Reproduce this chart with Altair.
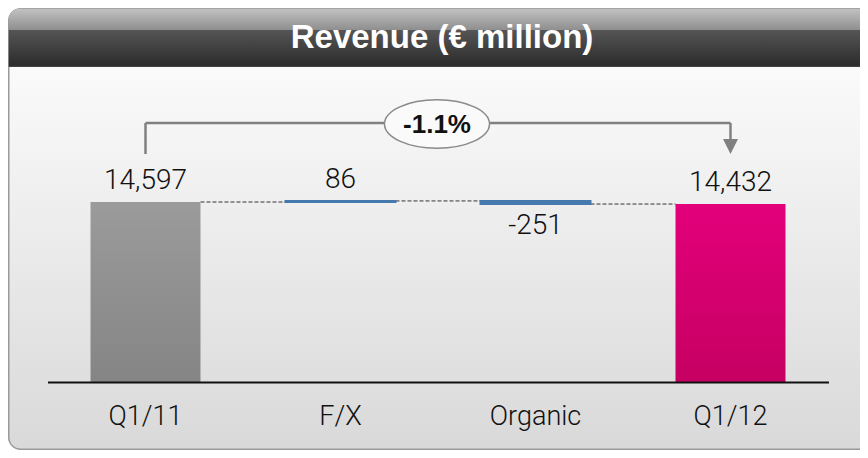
import altair as alt
import pandas as pd

# ---------------- data ----------------
categories = ["Q1/11", "F/X", "Organic", "Q1/12"]
values = [14597, 86, -251, 14432]
kinds = ["total", "delta", "delta", "total"]
pct_change = "-1.1%"
title_text = "Revenue (€ million)"

starts, ends = [], []
running = 0
for k, v in zip(kinds, values):
    if k == "total":
        starts.append(0)
        ends.append(v)
        running = v
    else:
        starts.append(running)
        ends.append(running + v)
        running += v

df = pd.DataFrame({
    "cat": categories,
    "start": starts,
    "end": ends,
    "value": values,
    "label": [f"{v:,}" for v in values],
})
df["top"] = df[["start", "end"]].max(axis=1)
df["bottom"] = df[["start", "end"]].min(axis=1)

conn = pd.DataFrame({"cat": categories[:-1], "next": categories[1:], "level": ends[:-1]})
bracket = pd.DataFrame({"cat": [categories[0], categories[-1]]})

# ---------------- styling ----------------
W, H = 852, 442
FONT_N = "Roboto, DejaVu Sans Condensed, Liberation Sans, sans-serif"
FONT = "Liberation Sans, Arial, sans-serif"

xs = alt.Scale(domain=categories, range=[40, 820], paddingInner=0.436, paddingOuter=0.218)
ys = alt.Scale(domain=[0, 15000], range=[374, 374 - 15000 * 180 / 14597], nice=False, zero=False)

X = alt.X("cat:N", scale=xs, axis=None, title=None)

one = alt.Data(values=[{}])

panel = alt.Chart(one).mark_rect(
    cornerRadius=12,
    stroke="#9a9a9a",
    strokeWidth=1.5,
    color=alt.Gradient(
        gradient="linear", x1=0, y1=0, x2=0, y2=1,
        stops=[alt.GradientStop(color="#ffffff", offset=0),
               alt.GradientStop(color="#f4f4f4", offset=0.3),
               alt.GradientStop(color="#d9d9d9", offset=1)],
    ),
).encode(x=alt.value(0.75), x2=alt.value(880), y=alt.value(0.75), y2=alt.value(441.25))

header = alt.Chart(one).mark_rect(
    cornerRadiusTopLeft=11,
    cornerRadiusTopRight=11,
    color=alt.Gradient(
        gradient="linear", x1=0, y1=0, x2=0, y2=1,
        stops=[alt.GradientStop(color="#c2c2c2", offset=0),
               alt.GradientStop(color="#8f8f8f", offset=0.36),
               alt.GradientStop(color="#555555", offset=0.37),
               alt.GradientStop(color="#2c2c2c", offset=0.97),
               alt.GradientStop(color="#484848", offset=1)],
    ),
).encode(x=alt.value(0.75), x2=alt.value(880), y=alt.value(0.75), y2=alt.value(59))

title = alt.Chart(one).mark_text(
    text=title_text, font=FONT, fontSize=33, fontWeight="bold", color="white",
    align="center", baseline="middle",
).encode(x=alt.value(434), y=alt.value(30))

baseline = alt.Chart(one).mark_rule(color="#111111", strokeWidth=2).encode(
    x=alt.value(40), x2=alt.value(821), y=alt.value(374.5)
)

base = alt.Chart(df)

gray_bar = base.transform_filter(alt.datum.cat == categories[0]).mark_bar(
    color=alt.Gradient(gradient="linear", x1=0, y1=0, x2=0, y2=1,
                       stops=[alt.GradientStop(color="#9b9b9b", offset=0),
                              alt.GradientStop(color="#858585", offset=1)])
).encode(x=X, y=alt.Y("start:Q", scale=ys, axis=None), y2="end:Q")

pink_bar = base.transform_filter(alt.datum.cat == categories[-1]).mark_bar(
    color=alt.Gradient(gradient="linear", x1=0, y1=0, x2=0, y2=1,
                       stops=[alt.GradientStop(color="#e3007b", offset=0),
                              alt.GradientStop(color="#c60062", offset=1)])
).encode(x=X, y=alt.Y("start:Q", scale=ys, axis=None), y2="end:Q")

blue_bar = base.transform_filter(
    (alt.datum.cat == categories[1]) | (alt.datum.cat == categories[2])
).mark_bar(color="#4679ae", stroke="#4679ae", strokeWidth=2).encode(
    x=X, y=alt.Y("start:Q", scale=ys, axis=None), y2="end:Q"
)

connectors = alt.Chart(conn).mark_rule(color="#333333", strokeWidth=1, strokeDash=[4, 2]).encode(
    x=alt.X("cat:N", scale=xs, axis=None, title=None, bandPosition=1),
    x2=alt.X2("next:N", bandPosition=0),
    y=alt.Y("level:Q", scale=ys, axis=None),
)

labels_up = base.transform_filter(alt.datum.value >= 0).mark_text(
    font=FONT_N, fontSize=28, fontWeight=300, color="#111111", baseline="middle", align="center", dy=-21
).encode(x=X, y=alt.Y("top:Q", scale=ys, axis=None), text="label:N")

labels_down = base.transform_filter(alt.datum.value < 0).mark_text(
    font=FONT_N, fontSize=28, fontWeight=300, color="#111111", baseline="middle", align="center", dy=22
).encode(x=X, y=alt.Y("bottom:Q", scale=ys, axis=None), text="label:N")

cat_labels = base.mark_text(
    font=FONT_N, fontSize=27, fontWeight=300, color="#111111", baseline="middle", align="center"
).encode(x=X, text="cat:N", y=alt.value(409))

GR = "#808080"
br_top = alt.Chart(conn.iloc[[0]].assign(next=categories[-1])).mark_rule(color=GR, strokeWidth=2.5).encode(
    x=alt.X("cat:N", scale=xs, axis=None, title=None), x2="next:N", y=alt.value(115)
)
br_left = alt.Chart(bracket.iloc[[0]]).mark_rule(color=GR, strokeWidth=2.5).encode(
    x=X, y=alt.value(115), y2=alt.value(146)
)
br_right = alt.Chart(bracket.iloc[[1]]).mark_rule(color=GR, strokeWidth=2.5).encode(
    x=X, y=alt.value(115), y2=alt.value(133)
)
arrow = alt.Chart(bracket.iloc[[1]]).mark_point(
    shape="M-1,-1L1,-1L0,1Z", filled=True, color=GR, opacity=1, size=225
).encode(x=X, y=alt.value(138.5))

ellipse = alt.Chart(one).mark_point(
    shape="M-1,0A1,0.46 0 1,0 1,0A1,0.46 0 1,0 -1,0Z",
    size=105 * 105, filled=False, stroke="#8a8a8a", strokeWidth=1.5,
    fill="#fafafa", fillOpacity=1, opacity=1,
).encode(x=alt.value(429), y=alt.value(116))

pct = alt.Chart(one).mark_text(
    text=pct_change, font=FONT, fontSize=26, fontWeight="bold", color="#111111",
    align="center", baseline="middle",
).encode(x=alt.value(429), y=alt.value(117))

chart = alt.layer(
    panel, header, title, connectors, gray_bar, pink_bar, blue_bar, baseline,
    labels_up, labels_down, cat_labels, br_top, br_left, br_right, arrow, ellipse, pct,
).properties(
    width=W, height=H, autosize=alt.AutoSizeParams(type="none"), padding=0,
).configure_view(stroke=None)

chart.save("out.html", embed_options={"renderer": "svg", "actions": False})
